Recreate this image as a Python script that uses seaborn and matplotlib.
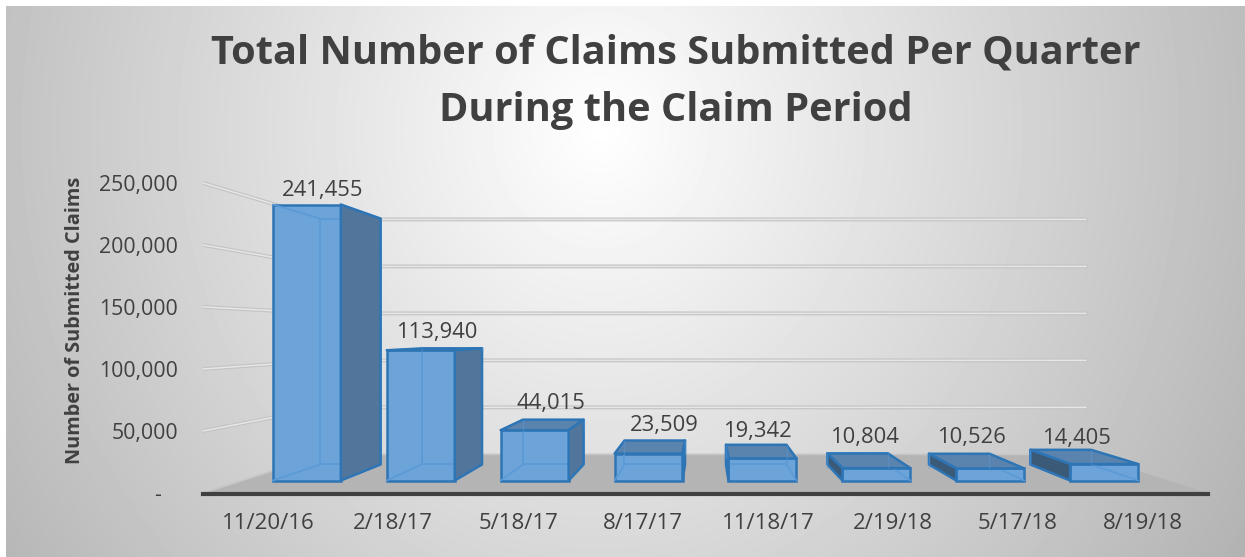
import numpy as np
import pandas as pd
import matplotlib.pyplot as plt
import seaborn as sns
from matplotlib.patches import Polygon

# Chart data
quarters = ['11/20/16', '2/18/17', '5/18/17', '8/17/17', '11/18/17', '2/19/18', '5/17/18', '8/19/18']
claims = [241455, 113940, 44015, 23509, 19342, 10804, 10526, 14405]
y_ticks = [0, 50000, 100000, 150000, 200000, 250000]
y_tick_labels = ['-\u00a0\u00a0\u00a0', '50,000', '100,000', '150,000', '200,000', '250,000']

W, H = 1245, 557

# Perspective setup, the old Excel 3D column look
PX_PER_CAT = 114
PX_PER_VAL = 276 / 241455
VP_X = 3.5
VP_Y = 128600
AXIS_PLANE = 1.085
LABEL_PLANE = 1.097
BACK_PLANE = 0.891
MID_PLANE = 0.945
WALL_PLANE = 0.822
FLOOR_HALF = 4.066

# data label nudges in px (right, up)
label_nudge = [(-6, -1), (0, -5), (7, -1), (13, -1), (-2, -2), (-3, 1), (-3, 1), (-6, -4)]

FRONT = '#6CA4DA'
EDGE = '#2E75B6'
INNER = '#5A9AD6'
RIGHT_SIDE = '#52769B'
LEFT_SIDE = '#3B5A78'
TOP_SIDE = '#5A84AE'
TEXT = '#404040'


def project(x, y, s):
    return VP_X + s * (x - VP_X), VP_Y + s * (y - VP_Y)


sns.set_style('white')
plt.rcParams['font.family'] = ['Open Sans', 'DejaVu Sans']

fig = plt.figure(figsize=(W / 100, H / 100), dpi=100)
fig.patch.set_facecolor('white')

# Background gradient inside the white frame
bg = fig.add_axes([6 / W, 0, (W - 6) / W, (H - 6) / H], zorder=-1)
xx, yy = np.meshgrid(np.arange(6, W), np.arange(6, H))
dist = np.sqrt(((xx - 600) / 640) ** 2 + ((yy - 130) / 700) ** 2)
bg.imshow(255 - 65 * dist, cmap='gray', vmin=0, vmax=255, aspect='auto')
bg.axis('off')

ax = fig.add_axes([203 / W, (H - 494) / H, (1208 - 203) / W, (494 - 170) / H])
ax.patch.set_alpha(0)

df = pd.DataFrame({'quarter': quarters, 'claims': claims})
sns.barplot(data=df, x='quarter', y='claims', ax=ax, width=68 / PX_PER_CAT, color=FRONT,
            saturation=1, edgecolor=EDGE, linewidth=1.8, zorder=5)
bars = list(ax.patches)

floor_l = VP_X - FLOOR_HALF
floor_r = VP_X + FLOOR_HALF
x0, y0 = project(floor_l, 0, AXIS_PLANE)
x1, _ = project(floor_r, 0, AXIS_PLANE)
y0 -= 1 / PX_PER_VAL
ax.set_xlim(x0, x1)
ax.set_ylim(y0, y0 + (494 - 170) / PX_PER_VAL)

# Floor
ax.add_patch(Polygon([project(floor_l, 0, AXIS_PLANE), project(floor_r, 0, AXIS_PLANE),
                      project(floor_r, 0, WALL_PLANE), project(floor_l, 0, WALL_PLANE)],
                     closed=True, facecolor='#B4B4B4', edgecolor='none', zorder=1))

# Gridlines on the side wall and the back wall
for v in y_ticks:
    pts = [project(floor_l, v, AXIS_PLANE), project(floor_l, v, WALL_PLANE), project(floor_r, v, WALL_PLANE)]
    xs, ys = zip(*pts)
    if v == 0:
        ax.plot(xs, ys, color='#C6C6C6', lw=1.2, zorder=2)
        continue
    ax.plot(xs, ys, color='#C4C4C4', lw=2.8, zorder=2, solid_capstyle='round')
    ax.plot(xs, ys, color='#E6E6E6', lw=1.1, zorder=2.1, solid_capstyle='round')

# Depth faces for every bar, worked out from the seaborn bars
for bar in bars:
    l, r = bar.get_x(), bar.get_x() + bar.get_width()
    t = bar.get_height()
    bl, bb = project(l, 0, BACK_PLANE)
    br, bt = project(r, t, BACK_PLANE)
    faces = []
    if bt > t:
        faces.append(([(l, t), (r, t), (br, bt), (bl, bt)], TOP_SIDE))
    if br > r:
        faces.append(([(r, 0), (r, t), (br, bt), (br, bb)], RIGHT_SIDE))
    if bl < l:
        faces.append(([(l, 0), (l, t), (bl, bt), (bl, bb)], LEFT_SIDE))
    for pts, col in faces:
        ax.add_patch(Polygon(pts, closed=True, facecolor=col, edgecolor=EDGE, lw=1.8, zorder=6.5,
                             joinstyle='round'))
    # back edges showing through the front
    for a, b in [((bl, bb), (br, bb)), ((bl, bb), (bl, bt)), ((bl, bt), (br, bt)), ((br, bb), (br, bt)),
                 ((l, 0), (bl, bb)), ((r, 0), (br, bb)), ((l, t), (bl, bt)), ((r, t), (br, bt))]:
        ax.plot([a[0], b[0]], [a[1], b[1]], color=INNER, lw=1.2, zorder=6)
    # faint back verticals on top of the dark faces
    if bt > t:
        for vx in (bl, br):
            ax.plot([vx, vx], [t, bt], color=INNER, lw=1, alpha=0.45, zorder=6.6)

# Data labels
for i, val in enumerate(claims):
    lx, ly = project(i, val, MID_PLANE)
    dx, dy = label_nudge[i]
    ax.annotate(f'{val:,}', (lx, ly), xytext=(dx * 0.72, 16 + dy * 0.72), textcoords='offset points',
                ha='center', va='center', fontsize=15.8, color=TEXT, zorder=8)

# Axes, ticks sit on the front plane of the floor
ax.set_xticks([project(i, 0, LABEL_PLANE)[0] for i in range(len(quarters))])
ax.set_xticklabels(quarters)
ax.set_yticks([project(0, v, AXIS_PLANE)[1] for v in y_ticks])
ax.set_yticklabels(y_tick_labels)
ax.tick_params(axis='x', length=0, pad=14, labelsize=16, labelcolor=TEXT)
ax.tick_params(axis='y', length=0, pad=18, labelsize=15.3, labelcolor=TEXT)
ax.set_xlabel('')
ax.set_ylabel('Number of Submitted Claims', fontsize=14.3, fontweight='bold', color=TEXT)
ax.yaxis.set_label_coords((85 - 203) / (1208 - 203), (494 - 320) / (494 - 170))
sns.despine(ax=ax, left=True, top=True, right=True)
ax.spines['bottom'].set_color(TEXT)
ax.spines['bottom'].set_linewidth(3)
ax.grid(False)

fig.suptitle('Total Number of Claims Submitted Per Quarter\nDuring the Claim Period', x=676 / W, y=1 - 33 / H,
             va='top', fontsize=28.6, fontweight='bold', color=TEXT, linespacing=1.62)

fig.savefig('out.png', dpi=100)
